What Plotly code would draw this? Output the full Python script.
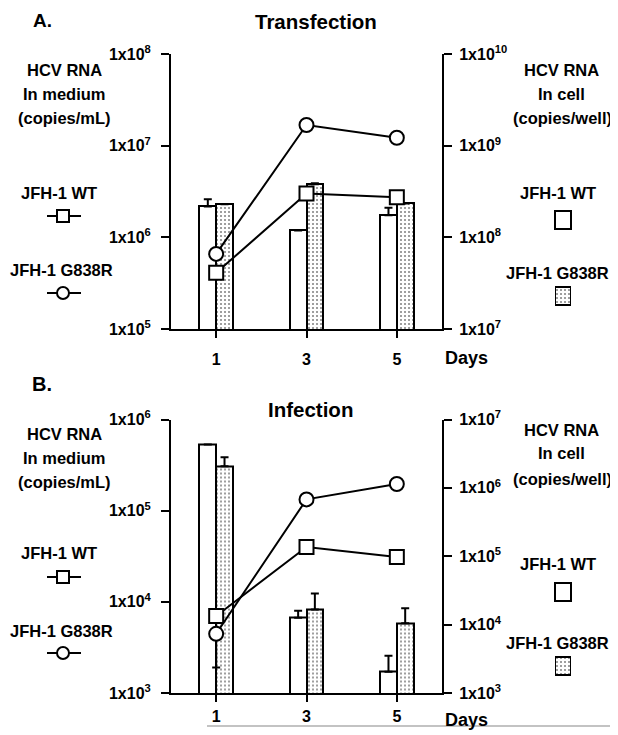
import plotly.graph_objects as go

# page body adds an 8px margin; the figure is sized to the remaining viewport
OX, OY = 8, 8
W, H = 610, 727

days = [1, 3, 5]
day_ticks = ["1", "3", "5"]

# Panel A: Transfection
a_medium_wt = [4.1e5, 3.0e6, 2.73e6]
a_medium_g838r = [6.6e5, 1.68e7, 1.22e7]
a_cell_wt = [2.17e8, 1.19e8, 1.74e8]
a_cell_wt_err = [0.43e8, None, 0.36e8]
a_cell_g838r = [2.3e8, 3.8e8, 2.34e8]
a_cell_g838r_err = [None, 0.08e8, None]

# Panel B: Infection
b_medium_wt = [7.0e3, 4.0e4, 3.1e4]
b_medium_g838r = [4.46e3, 1.33e5, 1.96e5]
b_medium_g838r_errminus = [2.56e3, None, None]
b_cell_wt = [4.3e6, 1.26e4, 2.05e3]
b_cell_wt_err = [None, 0.34e4, 1.45e3]
b_cell_g838r = [2.08e6, 1.66e4, 1.05e4]
b_cell_g838r_err = [0.72e6, 1.2e4, 0.69e4]

a_left_ticks = [1e5, 1e6, 1e7, 1e8]
a_left_text = ["1x10<sup>5</sup>", "1x10<sup>6</sup>", "1x10<sup>7</sup>", "1x10<sup>8</sup>"]
a_right_ticks = [1e7, 1e8, 1e9, 1e10]
a_right_text = ["1x10<sup>7</sup>", "1x10<sup>8</sup>", "1x10<sup>9</sup>", "1x10<sup>10</sup>"]
b_left_ticks = [1e3, 1e4, 1e5, 1e6]
b_left_text = ["1x10<sup>3</sup>", "1x10<sup>4</sup>", "1x10<sup>5</sup>", "1x10<sup>6</sup>"]
b_right_ticks = [1e3, 1e4, 1e5, 1e6, 1e7]
b_right_text = ["1x10<sup>3</sup>", "1x10<sup>4</sup>", "1x10<sup>5</sup>", "1x10<sup>6</sup>", "1x10<sup>7</sup>"]

FONT = "Arial, Liberation Sans, sans-serif"
BW = 0.37


def px(x):
    return (x - OX) / W


def py(y):
    return 1 - (y - OY) / H


fig = go.Figure()

pattern = dict(shape=".", fgcolor="black", bgcolor="white", size=4, solidity=0.2)


def add_panel(xa, ybar, yline, cell_wt, cell_wt_err, cell_g, cell_g_err,
              med_wt, med_g, med_g_errminus=None):
    xr = "x" + ("" if xa == 1 else str(xa))
    yb = "y" + ("" if ybar == 1 else str(ybar))
    yl = "y" + str(yline)
    fig.add_trace(go.Bar(
        x=days, y=cell_wt, xaxis=xr, yaxis=yb, offset=-BW, width=BW,
        marker=dict(color="white", line=dict(color="black", width=2)),
        error_y=dict(type="data", array=cell_wt_err, symmetric=False,
                     arrayminus=[0, 0, 0], color="black", thickness=2, width=4),
        showlegend=False))
    fig.add_trace(go.Bar(
        x=days, y=cell_g, xaxis=xr, yaxis=yb, offset=0, width=BW,
        marker=dict(color="white", pattern=pattern, line=dict(color="black", width=2)),
        error_y=dict(type="data", array=cell_g_err, symmetric=False,
                     arrayminus=[0, 0, 0], color="black", thickness=2, width=4),
        showlegend=False))
    fig.add_trace(go.Scatter(
        x=days, y=med_wt, xaxis=xr, yaxis=yl, mode="lines+markers",
        line=dict(color="black", width=2),
        marker=dict(symbol="square", size=14, color="white", line=dict(color="black", width=2)),
        showlegend=False))
    err = None
    if med_g_errminus is not None:
        err = dict(type="data", symmetric=False, array=[0, 0, 0], arrayminus=med_g_errminus,
                   color="black", thickness=2, width=4)
    fig.add_trace(go.Scatter(
        x=days, y=med_g, xaxis=xr, yaxis=yl, mode="lines+markers",
        line=dict(color="black", width=2),
        marker=dict(symbol="circle", size=14, color="white", line=dict(color="black", width=2)),
        error_y=err, showlegend=False))


add_panel(1, 1, 2, a_cell_wt, a_cell_wt_err, a_cell_g838r, a_cell_g838r_err,
          a_medium_wt, a_medium_g838r)
add_panel(2, 3, 4, b_cell_wt, b_cell_wt_err, b_cell_g838r, b_cell_g838r_err,
          b_medium_wt, b_medium_g838r, b_medium_g838r_errminus)

xdom = [px(171), px(442)]
tickfont = dict(family=FONT, size=16, color="black", weight="bold")

common_x = dict(range=[0, 6], tickvals=days, ticktext=day_ticks, showline=True,
                linecolor="black", linewidth=2, ticks="outside", ticklen=7, tickwidth=2,
                tickcolor="black", showgrid=False, zeroline=False, tickfont=tickfont,
                domain=xdom, automargin=False)
common_y = dict(type="log", showline=True, linecolor="black", linewidth=2,
                ticks="outside", ticklen=8, tickwidth=2, tickcolor="black",
                showgrid=False, zeroline=False, tickfont=tickfont, automargin=False)

fig.update_layout(
    width=W, height=H, margin=dict(l=0, r=0, t=0, b=0, pad=0, autoexpand=False),
    paper_bgcolor="white", plot_bgcolor="white", bargap=0, showlegend=False,
    font=dict(family=FONT, color="black"),
    xaxis=dict(common_x, anchor="y", ticklabelstandoff=8),
    xaxis2=dict(common_x, anchor="y3", ticklabelstandoff=1),
    yaxis=dict(common_y, domain=[py(329), py(54)], anchor="x", side="right",
               range=[7, 10], tickvals=a_right_ticks, ticktext=a_right_text,
               ticklabelstandoff=4),
    yaxis2=dict(common_y, domain=[py(329), py(54)], anchor="x", side="left", overlaying="y",
                range=[5, 8], tickvals=a_left_ticks, ticktext=a_left_text,
                ticklabelstandoff=7),
    yaxis3=dict(common_y, domain=[py(693), py(419.5)], anchor="x2", side="right",
                range=[3, 7], tickvals=b_right_ticks, ticktext=b_right_text,
                ticklabelstandoff=4),
    yaxis4=dict(common_y, domain=[py(693), py(419.5)], anchor="x2", side="left", overlaying="y3",
                range=[3, 6], tickvals=b_left_ticks, ticktext=b_left_text,
                ticklabelstandoff=7),
)

ann = []


def text(x, y, s, size=16.5, xanchor="center", yanchor="middle"):
    ann.append(dict(x=px(x), y=py(y), xref="paper", yref="paper", text="<b>" + s + "</b>",
                    showarrow=False, xanchor=xanchor, yanchor=yanchor,
                    font=dict(family=FONT, size=size, color="black")))


text(42, 8, "A.", size=19, yanchor="top")
text(316, 22, "Transfection", size=20.5)
text(42, 384, "B.", size=20)
text(310, 409, "Infection", size=20.5)
text(466, 358, "Days", size=18)
text(466, 720, "Days", size=18)

shapes = []


def legends(top_left, top_right, leg_left, leg_right):
    l1, l2, l3 = top_left
    text(64, l1, "HCV RNA")
    text(64, l2, "In medium")
    text(64, l3, "(copies/mL)")
    wt_t, wt_m, g_t, g_m = leg_left
    text(59, wt_t, "JFH-1 WT")
    text(61, g_t, "JFH-1 G838R")
    for yy in (wt_m, g_m):
        shapes.append(dict(type="line", xref="paper", yref="paper",
                           x0=px(47), x1=px(81), y0=py(yy), y1=py(yy),
                           line=dict(color="black", width=2)))
    shapes.append(dict(type="rect", xref="paper", yref="paper",
                       x0=px(57), x1=px(69), y0=py(wt_m + 6), y1=py(wt_m - 6),
                       fillcolor="white", line=dict(color="black", width=2)))
    shapes.append(dict(type="circle", xref="paper", yref="paper",
                       x0=px(57), x1=px(69), y0=py(g_m + 6), y1=py(g_m - 6),
                       fillcolor="white", line=dict(color="black", width=2)))
    r1, r2, r3 = top_right
    text(561, r1, "HCV RNA")
    text(561, r2, "In cell")
    text(562, r3, "(copies/well)")
    wt_t, wt_m, g_t, g_m = leg_right
    text(558, wt_t, "JFH-1 WT")
    text(557, g_t, "JFH-1 G838R")
    shapes.append(dict(type="rect", xref="paper", yref="paper",
                       x0=px(555), x1=px(571), y0=py(wt_m + 9), y1=py(wt_m - 9),
                       fillcolor="white", line=dict(color="black", width=2)))


legends((70, 94, 118), (70, 94, 118), (193, 216, 270, 293), (193, 220, 273, 296))
legends((434, 458, 482), (430, 453, 479), (553, 577, 631, 653), (564, 592, 643, 666))

# patterned legend keys (G838R) drawn as bars on a hidden axis spanning the page
key_bottoms = [py(305), py(675)]
key_heights = [py(287) - py(305), py(657) - py(675)]
fig.add_trace(go.Bar(x=[0.5, 0.5], y=key_heights, base=key_bottoms,
                     width=1, xaxis="x3", yaxis="y5",
                     marker=dict(color="white", pattern=pattern, line=dict(color="black", width=2)),
                     showlegend=False, hoverinfo="skip"))
fig.update_layout(
    xaxis3=dict(domain=[px(555), px(571)], range=[0, 1], visible=False, anchor="y5"),
    yaxis5=dict(domain=[0, 1], range=[0, 1], visible=False, anchor="x3"),
)

# bottom grey rule
shapes.append(dict(type="line", xref="paper", yref="paper", x0=px(207), x1=1,
                   y0=py(726), y1=py(726), line=dict(color="#888888", width=1.2)))

fig.update_layout(annotations=ann, shapes=shapes)
fig.write_html("out.html")
